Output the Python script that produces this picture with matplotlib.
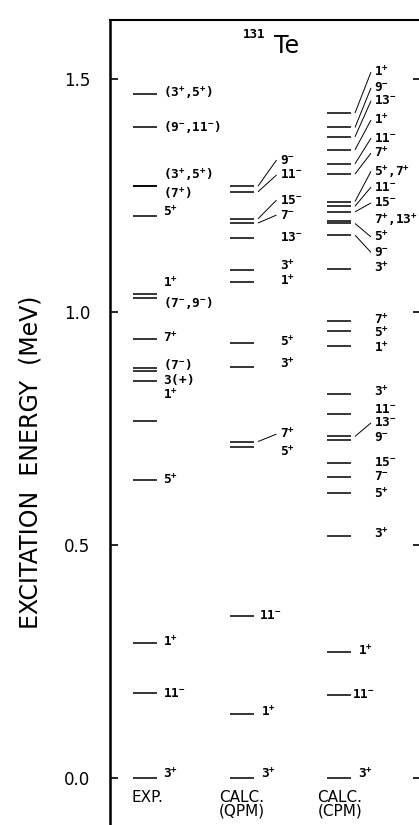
import matplotlib
matplotlib.use('Agg')
import matplotlib.pyplot as plt

plt.rcParams['mathtext.fontset'] = 'custom'
plt.rcParams['mathtext.rm'] = 'DejaVu Sans Mono:bold'
plt.rcParams['mathtext.it'] = 'DejaVu Sans Mono:bold'
plt.rcParams['mathtext.bf'] = 'DejaVu Sans Mono:bold'

# ---------------- data (energies in MeV, spins as 2J) ----------------
columns = ["EXP.", "CALC.\n(QPM)", "CALC.\n(CPM)"]

exp_energy = [0.000, 0.182, 0.289, 0.639, 0.767, 0.852, 0.874, 0.880, 0.943,
              1.031, 1.039, 1.206, 1.271, 1.271, 1.397, 1.468]
exp_spin = ["3⁺", "11⁻", "1⁺", "5⁺", "", "1⁺", "3(+)", "(7⁻)", "7⁺",
            "(7⁻,9⁻)", "1⁺", "5⁺", "(7⁺)", "(3⁺,5⁺)", "(9⁻,11⁻)", "(3⁺,5⁺)"]

qpm_energy = [0.000, 0.137, 0.347, 0.711, 0.722, 0.883, 0.934, 1.065, 1.091,
              1.159, 1.191, 1.200, 1.258, 1.270]
qpm_spin = ["3⁺", "1⁺", "11⁻", "5⁺", "7⁺", "3⁺", "5⁺", "1⁺", "3⁺",
            "13⁻", "7⁻", "15⁻", "11⁻", "9⁻"]

cpm_energy = [0.000, 0.178, 0.270, 0.519, 0.611, 0.645, 0.677, 0.726, 0.733,
              0.782, 0.825, 0.928, 0.960, 0.981, 1.092, 1.165, 1.190, 1.196,
              1.215, 1.227, 1.237, 1.296, 1.318, 1.348, 1.376, 1.396, 1.427]
cpm_spin = ["3⁺", "11⁻", "1⁺", "3⁺", "5⁺", "7⁻", "15⁻", "9⁻", "13⁻",
            "11⁻", "3⁺", "1⁺", "5⁺", "7⁺", "3⁺", "9⁻", "5⁺", "7⁺,13⁺",
            "15⁻", "11⁻", "5⁺,7⁺", "7⁺", "11⁻", "1⁺", "13⁻", "9⁻", "1⁺"]

# ---------------- layout (label placement, in MeV / px) ----------------
exp_label_y = [0.010, 0.182, 0.292, 0.640, None, 0.822, 0.855, 0.888, 0.945,
               1.019, 1.062, 1.215, 1.255, 1.294, 1.398, 1.470]
qpm_label_y = [0.010, 0.142, 0.349, 0.700, 0.738, 0.888, 0.937, 1.066, 1.100,
               1.159, 1.208, 1.240, 1.294, 1.326]
cpm_label_y = [0.010, 0.180, 0.274, 0.524, 0.609, 0.648, 0.678, 0.730, 0.762,
               0.790, 0.828, 0.923, 0.955, 0.983, 1.096, 1.128, 1.161, 1.197,
               1.234, 1.268, 1.302, 1.341, 1.373, 1.412, 1.453, 1.481, 1.515]
exp_label_dx = [18] * len(exp_energy)
qpm_label_dx = [19, 19, 17] + [37.5] * (len(qpm_energy) - 3)
cpm_label_dx = [19, 13, 19] + [35] * (len(cpm_energy) - 3)

W, H = 419, 825
fig = plt.figure(figsize=(W / 100, H / 100), dpi=100)
ax_left, ax_right, ax_top = 110, 421, 20
zero_px, px_per_mev = 778, 466.0
PX = 97.0          # pixels per column step
c0_px = 145        # centre of first column
ax = fig.add_axes([ax_left / W, 0, (ax_right - ax_left) / W, 1 - ax_top / H])
ax.set_xlim((ax_left - c0_px) / PX, (ax_right - c0_px) / PX)
ax.set_ylim(-(H - zero_px) / px_per_mev, (zero_px - ax_top) / px_per_mev)

label_font = dict(fontsize=9.2, color='black')

half = 12 / PX


def as_math(s):
    s = s.replace("⁺", "^{+}").replace("⁻", "^{-}").replace(",", "{,}")
    return "$" + s + "$"


def draw_column(ci, energies, spins, label_y, label_dx):
    c = ci
    ax.hlines(energies, c - half, c + half, color='black', lw=1.1)
    for e, s, ly, dx in zip(energies, spins, label_y, label_dx):
        if not s:
            continue
        lx = c + dx / PX
        ax.text(lx, ly, as_math(s), ha='left', va='center', **label_font)
        if ci > 0 and abs(ly - e) > 0.012:
            ax.plot([c + (half * PX + 4) / PX, lx - 3 / PX], [e, ly],
                    color='black', lw=0.7, solid_capstyle='butt')


draw_column(0, exp_energy, exp_spin, exp_label_y, exp_label_dx)
draw_column(1, qpm_energy, qpm_spin, qpm_label_y, qpm_label_dx)
draw_column(2, cpm_energy, cpm_spin, cpm_label_y, cpm_label_dx)

# column titles
col_centres_px = [147, 242, 340]
for name, cx in zip(columns, col_centres_px):
    ax.text((cx - c0_px) / PX, -(790 - zero_px) / px_per_mev, name,
            ha='center', va='top', fontsize=11, family='DejaVu Sans',
            linespacing=0.85, transform=ax.transData)

# axes styling
ax.set_yticks([0.0, 0.5, 1.0, 1.5])
ax.set_yticklabels(["0.0", "0.5", "1.0", "1.5"])
ax.set_xticks([])
ax.tick_params(axis='y', direction='in', length=6, width=1.2, pad=14,
               labelsize=12, right=True)
ax.spines['bottom'].set_visible(False)
ax.spines['left'].set_linewidth(1.8)
ax.spines['top'].set_linewidth(1.5)
ax.spines['right'].set_linewidth(1.5)

fig.text(31 / W, 1 - 462 / H, "EXCITATION  ENERGY  (MeV)", rotation=90,
         ha='center', va='center', fontsize=17, family='DejaVu Sans')

# title 131Te
fig.text(254 / W, 1 - 34 / H, "131", ha='center', va='center', fontsize=9,
         fontweight='bold', family='DejaVu Sans Mono')
fig.text(274 / W, 1 - 46 / H, "Te", ha='left', va='center', fontsize=17,
         family='DejaVu Sans')

fig.savefig('out.png', dpi=100)
